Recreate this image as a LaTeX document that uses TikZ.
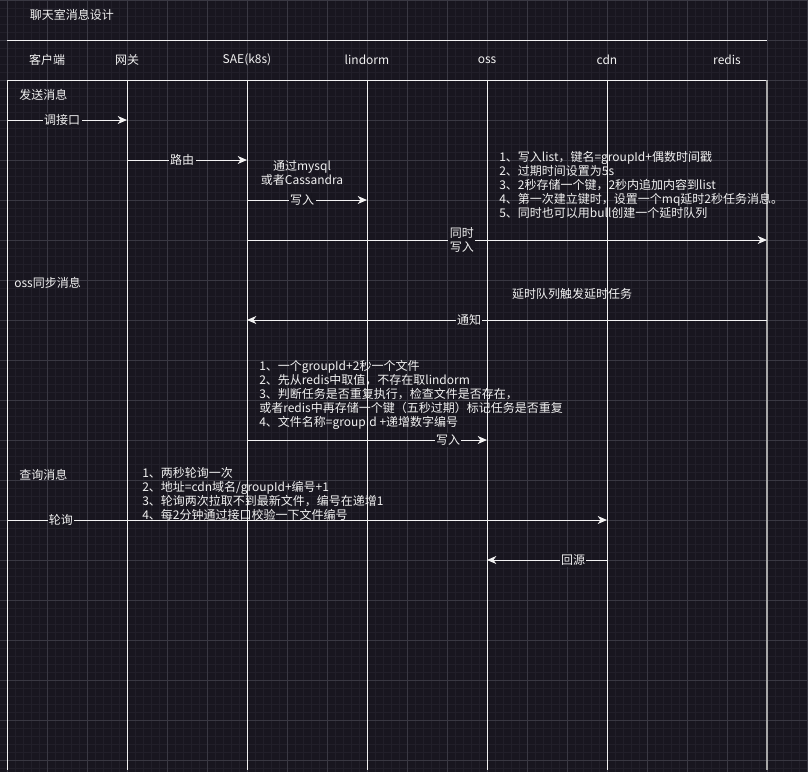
\documentclass[tikz,border=0pt]{standalone}
\usepackage{fontspec}
\setmainfont{Noto Sans CJK SC}
\usetikzlibrary{arrows.meta}
\definecolor{bg}{HTML}{18161F}
\definecolor{gridmaj}{HTML}{393842}
\definecolor{gridmin}{HTML}{211F29}
\definecolor{fg}{HTML}{F2F2F2}
\definecolor{edge}{HTML}{A8A8A8}
\begin{document}
\begin{tikzpicture}[x=0.75pt,y=-0.75pt,
  font=\fontsize{9}{10.5}\selectfont,
  txt/.style={text=fg, inner sep=0pt},
  onl/.style={fill=bg, text=fg, inner sep=1pt},
  life/.style={draw=fg, line width=0.75pt},
  msg/.style={draw=fg, line width=0.75pt, -{Stealth[length=7pt,width=6pt,inset=2.2pt]}}]
% background and grid
\fill[bg] (0,0) rectangle (808,772);
\useasboundingbox (0,0) rectangle (808,772);
\foreach \gx in {-1,7,...,807} \draw[gridmin, line width=0.5pt] (\gx,0) -- (\gx,772);
\foreach \gy in {0,8,...,772} \draw[gridmin, line width=0.5pt] (0,\gy) -- (808,\gy);
\foreach \gx in {7,47,...,807} \draw[gridmaj, line width=0.6pt] (\gx,0) -- (\gx,772);
\foreach \gy in {0,40,...,772} \draw[gridmaj, line width=0.6pt] (0,\gy) -- (808,\gy);

% title and header
\node[txt] (title) at (72,15) {聊天室消息设计};
\draw[life] (7,40) -- (767,40);
\draw[life] (7,80) -- (767,80);
\node[txt] (hclient) at (47,60) {客户端};
\node[txt] (hgw) at (127,60) {网关};
\node[txt] (hsae) at (247,60) {SAE(k8s)};
\node[txt] (hlin) at (367,60) {lindorm};
\node[txt] (hoss) at (487,60) {oss};
\node[txt] (hcdn) at (607,60) {cdn};
\node[txt] (hred) at (727,60) {redis};

% lifelines
\coordinate (Lc) at (7,80);   \coordinate (Lcb) at (7,770);
\coordinate (Lg) at (127,80); \coordinate (Lgb) at (127,770);
\coordinate (Ls) at (247,80); \coordinate (Lsb) at (247,770);
\coordinate (Ll) at (367,80); \coordinate (Llb) at (367,770);
\coordinate (Lo) at (487,80); \coordinate (Lob) at (487,770);
\coordinate (Ld) at (607,80); \coordinate (Ldb) at (607,770);
\coordinate (Lr) at (767,80); \coordinate (Lrb) at (767,770);
\draw[life] (Lc) -- (Lcb);
\draw[life] (Lg) -- (Lgb);
\draw[life] (Ls) -- (Lsb);
\draw[life] (Ll) -- (Llb);
\draw[life] (Lo) -- (Lob);
\draw[life] (Ld) -- (Ldb);
\draw[draw=edge, line width=0.9pt] (Lr) -- (Lrb);

% section: send
\node[txt, anchor=west] (sec1) at (19,95) {发送消息};
\coordinate (m1a) at (7,120);   \coordinate (m1b) at (127,120);
\draw[msg] (m1a) -- node[onl, pos=0.46] {调接口} (m1b);
\coordinate (m2a) at (127,160); \coordinate (m2b) at (247,160);
\draw[msg] (m2a) -- node[onl, pos=0.46] {路由} (m2b);
\node[txt, align=center] (via) at (302,173) {通过mysql\\或者Cassandra};
\coordinate (m3a) at (247,200); \coordinate (m3b) at (367,200);
\draw[msg] (m3a) -- node[onl, pos=0.46] {写入} (m3b);
\node[txt, anchor=west, align=left] (note1) at (499,185) {1、写入list，键名=groupId+偶数时间戳\\2、过期时间设置为5s\\3、2秒存储一个键，2秒内追加内容到list\\4、第一次建立键时，设置一个mq延时2秒任务消息。\\5、同时也可以用bull创建一个延时队列};
\coordinate (m4a) at (247,240); \coordinate (m4b) at (767,240);
\draw[msg] (m4a) -- node[onl, pos=0.413, align=center] {同时\\写入} (m4b);

% section: oss sync
\node[txt, anchor=west] (sec2) at (14,283) {oss同步消息};
\node[txt] (delay) at (572,294) {延时队列触发延时任务};
\coordinate (m5a) at (767,320); \coordinate (m5b) at (247,320);
\draw[msg] (m5a) -- node[onl, pos=0.573] {通知} (m5b);
\node[txt, anchor=west, align=left] (note2) at (259,395) {1、一个groupId+2秒一个文件\\2、先从redis中取值，不存在取lindorm\\3、判断任务是否重复执行，检查文件是否存在，\\或者redis中再存储一个键（五秒过期）标记任务是否重复\\4、文件名称=groupId +递增数字编号};
\coordinate (m6a) at (247,440); \coordinate (m6b) at (487,440);
\draw[msg] (m6a) -- node[onl, pos=0.8375] {写入} (m6b);

% section: query
\node[txt, anchor=west] (sec3) at (19,475) {查询消息};
\node[txt, anchor=west, align=left] (note3) at (142,493.5) {1、两秒轮询一次\\2、地址=cdn域名/groupId+编号+1\\3、轮询两次拉取不到最新文件，编号在递增1\\4、每2分钟通过接口校验一下文件编号};
\coordinate (m7a) at (7,520); \coordinate (m7b) at (607,520);
\draw[msg] (m7a) -- node[onl, pos=0.09] {轮询} (m7b);
\coordinate (m8a) at (607,560); \coordinate (m8b) at (487,560);
\draw[msg] (m8a) -- node[onl, pos=0.283] {回源} (m8b);
\end{tikzpicture}
\end{document}
